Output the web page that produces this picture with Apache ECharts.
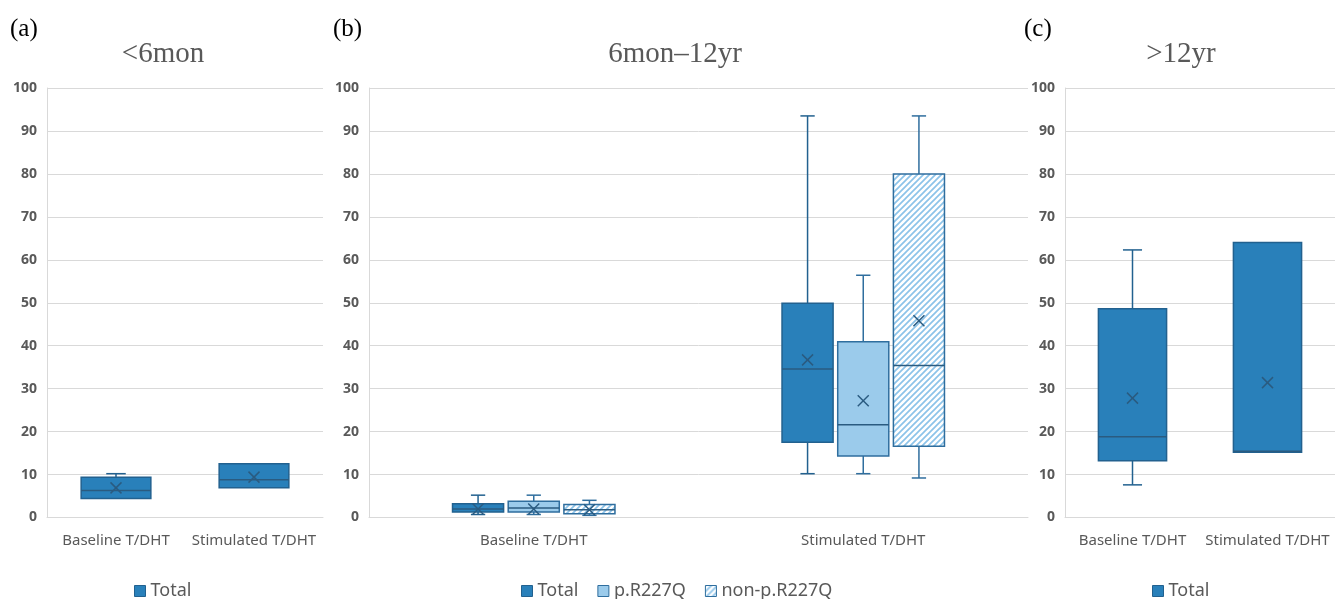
<!DOCTYPE html>
<html>
<head>
<meta charset="utf-8">
<script src="https://cdn.jsdelivr.net/npm/echarts@6/dist/echarts.min.js"></script>
<style>
html,body{margin:0;padding:0;background:#fff;}
#chart{width:1335px;height:599px;}
</style>
</head>
<body>
<div id="chart"></div>
<script>
// Categories and tick labels
const categories = ['Baseline T/DHT', 'Stimulated T/DHT'];
const yTicks = [0, 10, 20, 30, 40, 50, 60, 70, 80, 90, 100];
const panelTitles = ['<6mon', '6mon\u201312yr', '>12yr'];
const panelLetters = ['(a)', '(b)', '(c)'];
const seriesNames = ['Total', 'p.R227Q', 'non-p.R227Q'];

// Each row: [min, Q1, median, Q3, max, mean] for Baseline, Stimulated
const aTotal = [[4.4, 4.4, 6.3, 9.4, 10.2, 6.9], [6.9, 6.9, 8.8, 12.5, 12.5, 9.4]];
const bTotal = [[0.7, 1.3, 2.0, 3.2, 5.2, 2.0], [10.2, 17.5, 34.6, 49.9, 93.5, 36.7]];
const bR227Q = [[0.7, 1.3, 2.2, 3.8, 5.2, 2.0], [10.2, 14.3, 21.6, 40.9, 56.4, 27.2]];
const bNonR227Q = [[0.5, 0.9, 1.8, 3.0, 4.0, 1.8], [9.2, 16.6, 35.4, 80.0, 93.5, 45.8]];
const cTotal = [[7.6, 13.2, 18.8, 48.6, 62.3, 27.8], [15.2, 15.2, 15.4, 64.0, 64.0, 31.4]];

// hatch pattern
function makeHatch() {
  const s = 6;
  const c = document.createElement('canvas');
  c.width = s; c.height = s;
  const g = c.getContext('2d');
  g.fillStyle = '#ffffff';
  g.fillRect(0, 0, s, s);
  g.strokeStyle = '#8cc3e9';
  g.lineWidth = 1.7;
  g.beginPath();
  g.moveTo(-1, s + 1); g.lineTo(s + 1, -1);
  g.moveTo(-1, 1); g.lineTo(1, -1);
  g.moveTo(s - 1, s + 1); g.lineTo(s + 1, s - 1);
  g.stroke();
  return c;
}
const hatch = { image: makeHatch(), repeat: 'repeat' };

const TOTAL_FILL = '#2980ba';
const TOTAL_BORDER = '#22618f';
const LIGHT_FILL = '#9bcbeb';
const LIGHT_BORDER = '#2f6e9e';
const DARK = '#2a5b80';

function makeRender(offFrac, wFrac, fill, border) {
  return function (params, api) {
    const cat = api.value(0);
    const vMin = api.value(1), q1 = api.value(2), med = api.value(3), q3 = api.value(4), vMax = api.value(5), mean = api.value(6);
    const band = api.size([1, 0])[0];
    const base = api.coord([cat, 0]);
    const cx = base[0] + offFrac * band;
    const w = wFrac * band;
    const y = v => api.coord([cat, v])[1];
    const cap = w * 0.28;
    const ch = [];
    const lineStyle = { stroke: border, lineWidth: 1.5, fill: null };
    if (vMax > q3 + 0.05) {
      ch.push({ type: 'line', shape: { x1: cx, y1: y(q3), x2: cx, y2: y(vMax) }, style: lineStyle });
      ch.push({ type: 'line', shape: { x1: cx - cap / 2, y1: y(vMax), x2: cx + cap / 2, y2: y(vMax) }, style: lineStyle });
    }
    if (vMin < q1 - 0.05) {
      ch.push({ type: 'line', shape: { x1: cx, y1: y(q1), x2: cx, y2: y(vMin) }, style: lineStyle });
      ch.push({ type: 'line', shape: { x1: cx - cap / 2, y1: y(vMin), x2: cx + cap / 2, y2: y(vMin) }, style: lineStyle });
    }
    ch.push({ type: 'rect', shape: { x: cx - w / 2, y: y(q3), width: w, height: y(q1) - y(q3) },
      style: { fill: fill, stroke: border, lineWidth: 1.5 } });
    ch.push({ type: 'line', shape: { x1: cx - w / 2, y1: y(med), x2: cx + w / 2, y2: y(med) },
      style: { stroke: DARK, lineWidth: 1.5 } });
    const m = 5.5, my = y(mean);
    ch.push({ type: 'line', shape: { x1: cx - m, y1: my - m, x2: cx + m, y2: my + m }, style: { stroke: DARK, lineWidth: 1.5 } });
    ch.push({ type: 'line', shape: { x1: cx - m, y1: my + m, x2: cx + m, y2: my - m }, style: { stroke: DARK, lineWidth: 1.5 } });
    return { type: 'group', children: ch };
  };
}

function toData(rows) { return rows.map((r, i) => [i].concat(r)); }

const grids = [
  { left: 47, width: 276, top: 88, height: 429.5 },
  { left: 369, width: 659, top: 88, height: 429.5 },
  { left: 1065, width: 277, top: 88, height: 429.5 }
];

const labelColor = '#595959';
const gridColor = '#d9d9d9';

const xAxes = grids.map((g, i) => ({
  type: 'category', gridIndex: i, data: categories,
  axisLine: { show: true, lineStyle: { color: gridColor, width: 1 } },
  axisTick: { show: false },
  axisLabel: { color: labelColor, fontSize: 15, fontFamily: 'Noto Sans', margin: 16, interval: 0 },
  splitLine: { show: false }
}));
const yAxes = grids.map((g, i) => ({
  type: 'value', gridIndex: i, min: yTicks[0], max: yTicks[yTicks.length - 1], interval: 10,
  axisLine: { show: true, lineStyle: { color: gridColor, width: 1 } },
  axisTick: { show: false },
  axisLabel: { color: labelColor, fontSize: 14, fontWeight: 'bold', fontFamily: 'Noto Sans', margin: 10 },
  splitLine: { show: true, lineStyle: { color: gridColor, width: 1 } }
}));

function customSeries(name, axisIdx, rows, off, wf, fill, border) {
  return {
    type: 'custom', name: name, xAxisIndex: axisIdx, yAxisIndex: axisIdx,
    itemStyle: { color: fill, borderColor: border },
    renderItem: makeRender(off, wf, fill, border),
    encode: { x: 0, y: [1, 2, 3, 4, 5, 6] },
    data: toData(rows), clip: false
  };
}

const series = [
  customSeries(seriesNames[0], 0, aTotal, 0, 0.505, TOTAL_FILL, TOTAL_BORDER),
  customSeries(seriesNames[0], 1, bTotal, -0.169, 0.155, TOTAL_FILL, TOTAL_BORDER),
  customSeries(seriesNames[1], 1, bR227Q, 0, 0.155, LIGHT_FILL, LIGHT_BORDER),
  customSeries(seriesNames[2], 1, bNonR227Q, 0.169, 0.155, hatch, LIGHT_BORDER),
  customSeries(seriesNames[0], 2, cTotal, 0, 0.505, TOTAL_FILL, TOTAL_BORDER)
];

const legendText = { color: labelColor, fontSize: 18, fontFamily: 'Noto Sans' };
const legItem = (name, fill, border) => ({ name: name, icon: 'rect', itemStyle: { color: fill, borderColor: border, borderWidth: 1 } });
const legends = [
  { left: 134, top: 582, data: [legItem('Total', TOTAL_FILL, TOTAL_BORDER)] },
  { left: 521, top: 582, data: [legItem('Total', TOTAL_FILL, TOTAL_BORDER), legItem('p.R227Q', LIGHT_FILL, LIGHT_BORDER), legItem('non-p.R227Q', hatch, LIGHT_BORDER)] },
  { left: 1152, top: 582, data: [legItem('Total', TOTAL_FILL, TOTAL_BORDER)] }
].map(l => Object.assign({ orient: 'horizontal', padding: 0, itemWidth: 11, itemHeight: 11, itemGap: 19, textStyle: legendText, selectedMode: false }, l));

const serif = '"Liberation Serif", "DejaVu Serif", serif';
const graphics = [
  { x: 10, y: 29, text: panelLetters[0], align: 'left', size: 25, color: '#000' },
  { x: 333, y: 29, text: panelLetters[1], align: 'left', size: 25, color: '#000' },
  { x: 1024, y: 29, text: panelLetters[2], align: 'left', size: 25, color: '#000' },
  { x: 163, y: 54, text: panelTitles[0], align: 'center', size: 29, color: '#595959' },
  { x: 675, y: 54, text: panelTitles[1], align: 'center', size: 29, color: '#595959' },
  { x: 1181, y: 54, text: panelTitles[2], align: 'center', size: 29, color: '#595959' }
].map(t => ({ type: 'text', x: t.x, y: t.y, style: { text: t.text, fill: t.color, font: t.size + 'px ' + serif, textAlign: t.align, textVerticalAlign: 'middle' } }));

const chart = echarts.init(document.getElementById('chart'), null, { renderer: 'canvas' });
chart.setOption({
  backgroundColor: '#ffffff',
  animation: false,
  grid: grids,
  xAxis: xAxes,
  yAxis: yAxes,
  legend: legends,
  series: series,
  graphic: graphics
});
</script>
</body>
</html>
